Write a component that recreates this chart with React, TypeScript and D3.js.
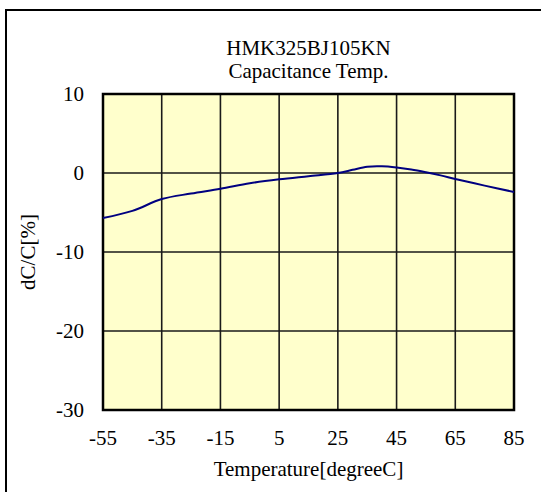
import { useEffect, useRef } from "react";
import * as d3 from "d3";

const temps = [-55, -45, -35, -25, -15, -5, 5, 15, 25, 30, 35, 40, 45, 50, 55, 60, 65, 75, 85];
const dcValues = [-5.7, -4.8, -3.3, -2.6, -2.0, -1.3, -0.8, -0.4, 0, 0.4, 0.8, 0.85, 0.7, 0.45, 0.1, -0.3, -0.75, -1.6, -2.4];
const xTicks = [-55, -35, -15, 5, 25, 45, 65, 85];
const yTicks = [10, 0, -10, -20, -30];
const titleLines = ["HMK325BJ105KN", "Capacitance Temp."];

function App() {
  const chartRef = useRef<SVGSVGElement>(null);
  const width = 541;
  const height = 492;

  useEffect(() => {
    const svg = d3.select(chartRef.current);
    svg.selectAll("*").remove();

    const margin = { top: 94, right: 27, bottom: 82, left: 103 };
    const font = "'Liberation Serif', 'Times New Roman', serif";

    const x = d3
      .scaleLinear()
      .domain([-55, 85])
      .range([margin.left, width - margin.right]);
    const y = d3
      .scaleLinear()
      .domain([-30, 10])
      .range([height - margin.bottom, margin.top]);

    // outer frame (cut off at right/bottom)
    svg
      .append("rect")
      .attr("x", 6)
      .attr("y", 10)
      .attr("width", 560)
      .attr("height", 520)
      .attr("fill", "white")
      .attr("stroke", "#000")
      .attr("stroke-width", 2);

    // plot background
    svg
      .append("rect")
      .attr("x", x(-55))
      .attr("y", y(10))
      .attr("width", x(85) - x(-55))
      .attr("height", y(-30) - y(10))
      .attr("fill", "#ffffcc");

    // grid
    svg
      .append("g")
      .selectAll("line")
      .data(xTicks)
      .join("line")
      .attr("x1", (d) => x(d))
      .attr("x2", (d) => x(d))
      .attr("y1", y(10))
      .attr("y2", y(-30))
      .attr("stroke", "#1a1a1a")
      .attr("stroke-width", 1.6);
    svg
      .append("g")
      .selectAll("line")
      .data(yTicks)
      .join("line")
      .attr("x1", x(-55))
      .attr("x2", x(85))
      .attr("y1", (d) => y(d))
      .attr("y2", (d) => y(d))
      .attr("stroke", "#1a1a1a")
      .attr("stroke-width", 1.6);

    // plot border
    svg
      .append("rect")
      .attr("x", x(-55))
      .attr("y", y(10))
      .attr("width", x(85) - x(-55))
      .attr("height", y(-30) - y(10))
      .attr("fill", "none")
      .attr("stroke", "#000")
      .attr("stroke-width", 2.5);

    // curve
    const line = d3
      .line<number>()
      .x((_, i) => x(temps[i]))
      .y((d) => y(d))
      .curve(d3.curveCatmullRom);
    svg
      .append("path")
      .datum(dcValues)
      .attr("fill", "none")
      .attr("stroke", "#000080")
      .attr("stroke-width", 2)
      .attr("d", line);

    // tick labels
    svg
      .append("g")
      .selectAll("text")
      .data(xTicks)
      .join("text")
      .attr("x", (d) => x(d))
      .attr("y", 445)
      .attr("text-anchor", "middle")
      .style("font-family", font)
      .style("font-size", "21px")
      .text((d) => d);
    svg
      .append("g")
      .selectAll("text")
      .data(yTicks)
      .join("text")
      .attr("x", 84)
      .attr("y", (d) => y(d) + 7)
      .attr("text-anchor", "end")
      .style("font-family", font)
      .style("font-size", "21px")
      .text((d) => d);

    // title
    svg
      .append("g")
      .selectAll("text")
      .data(titleLines)
      .join("text")
      .attr("x", (x(-55) + x(85)) / 2)
      .attr("y", (_, i) => 55 + i * 23)
      .attr("text-anchor", "middle")
      .style("font-family", font)
      .style("font-size", "21px")
      .text((d) => d);

    // axis titles
    svg
      .append("text")
      .attr("x", (x(-55) + x(85)) / 2)
      .attr("y", 476)
      .attr("text-anchor", "middle")
      .style("font-family", font)
      .style("font-size", "21px")
      .text("Temperature[degreeC]");
    svg
      .append("text")
      .attr("transform", `translate(35,${(y(10) + y(-30)) / 2}) rotate(-90)`)
      .attr("text-anchor", "middle")
      .style("font-family", font)
      .style("font-size", "21px")
      .text("dC/C[%]");
  }, []);

  return (
    <div style={{ position: "absolute", left: 0, top: 0 }}>
      <svg ref={chartRef} width={width} height={height} style={{ display: "block" }} />
    </div>
  );
}

export default App;
